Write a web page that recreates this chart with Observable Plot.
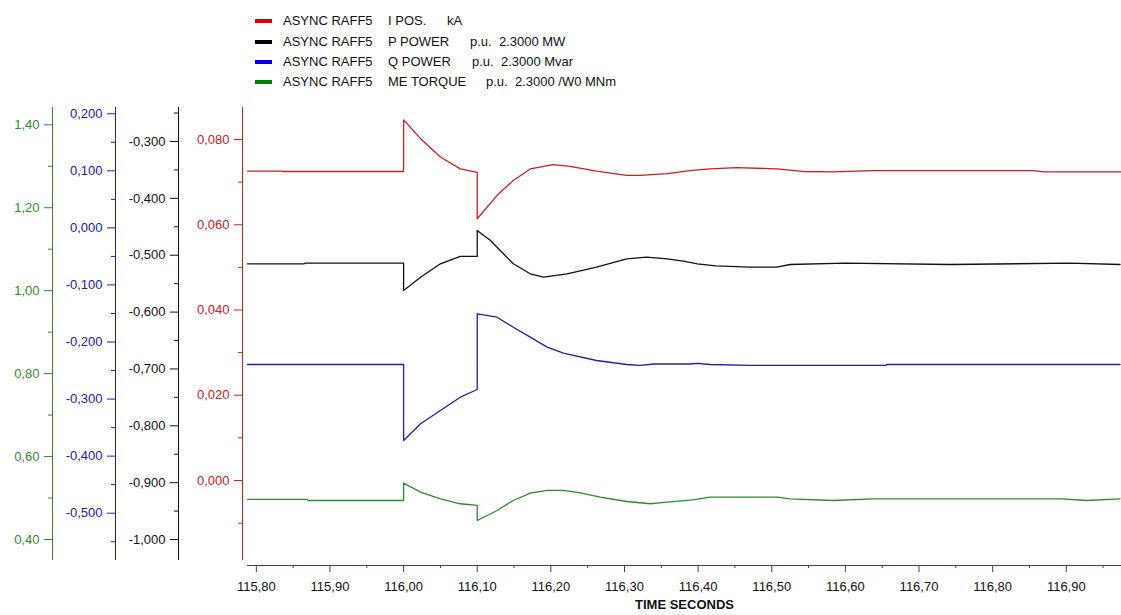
<!DOCTYPE html>
<html><head><meta charset="utf-8">
<script src="https://cdn.jsdelivr.net/npm/d3@7"></script>
<script src="https://cdn.jsdelivr.net/npm/@observablehq/plot@0.6"></script>
<style>
body{margin:0;background:#fff;font-family:"Liberation Sans",Arial,sans-serif;}
#legend{position:relative;height:100px;width:1121px;font-size:13px;color:#111;}
.sw{position:absolute;left:255px;width:17px;height:4px;}
.t{position:absolute;white-space:pre;line-height:15px;}
#chart svg{display:block;}
</style></head><body>
<div id="legend"></div><div id="chart"></div>
<script>
// ---- data ----
const seriesNames = ["I POS.", "P POWER", "Q POWER", "ME TORQUE"];
const seriesUnits = ["kA", "p.u.  2.3000 MW", "p.u.  2.3000 Mvar", "p.u.  2.3000 /W0 MNm"];
const seriesColors = ["#cc2020", "#111111", "#2020aa", "#2e8b2e"];
const legendColors = ["#e00000", "#000000", "#0000d0", "#008000"];

const iPosTime = [115.788,115.835,115.836,116.000,116.000,116.023,116.050,116.077,116.100,116.100,116.127,116.149,116.172,116.203,116.226,116.262,116.303,116.321,116.358,116.389,116.416,116.453,116.507,116.542,116.583,116.638,116.855,116.870,116.975];
const iPosValue = [0.0726,0.0726,0.0725,0.0725,0.0846,0.0802,0.0759,0.0731,0.0723,0.0614,0.0669,0.0704,0.0731,0.0741,0.0737,0.0726,0.0716,0.0716,0.0720,0.0727,0.0731,0.0734,0.0731,0.0725,0.0724,0.0727,0.0727,0.0724,0.0724];

const pPowerTime = [115.788,115.865,115.866,116.000,116.000,116.023,116.050,116.077,116.100,116.100,116.118,116.149,116.172,116.190,116.222,116.262,116.303,116.330,116.358,116.380,116.399,116.424,116.471,116.507,116.525,116.600,116.742,116.905,116.973];
const pPowerValue = [-0.5151,-0.5151,-0.5140,-0.5140,-0.5620,-0.5387,-0.5151,-0.5022,-0.5022,-0.4565,-0.4741,-0.5151,-0.5327,-0.5387,-0.5327,-0.5211,-0.5063,-0.5035,-0.5063,-0.5105,-0.5151,-0.5186,-0.5211,-0.5211,-0.5163,-0.5140,-0.5163,-0.5140,-0.5163];

const qPowerTime = [115.788,116.000,116.000,116.023,116.050,116.077,116.100,116.100,116.127,116.149,116.172,116.195,116.217,116.262,116.303,116.321,116.340,116.389,116.399,116.416,116.471,116.655,116.656,116.973];
const qPowerValue = [-0.2394,-0.2394,-0.3726,-0.3433,-0.3200,-0.2967,-0.2832,-0.1505,-0.1565,-0.1740,-0.1915,-0.2090,-0.2196,-0.2324,-0.2394,-0.2411,-0.2385,-0.2385,-0.2375,-0.2394,-0.2411,-0.2411,-0.2394,-0.2394];

const torqueTime = [115.788,115.869,115.870,116.000,116.000,116.023,116.050,116.077,116.100,116.100,116.127,116.149,116.172,116.195,116.217,116.240,116.267,116.303,116.335,116.358,116.393,116.416,116.507,116.525,116.583,116.638,116.894,116.928,116.973];
const torqueValue = [0.4965,0.4965,0.4940,0.4940,0.5358,0.5141,0.4981,0.4861,0.4820,0.4458,0.4699,0.4940,0.5116,0.5182,0.5182,0.5126,0.5020,0.4916,0.4861,0.4900,0.4957,0.5020,0.5020,0.4981,0.4940,0.4981,0.4981,0.4940,0.4981];

// axis extents (bottom, top) of each of the four stacked value axes
const iPosRange = [-0.01877, 0.08751];
const pPowerRange = [-1.0369, -0.2402];
const qPowerRange = [-0.5829, 0.2110];
const torqueRange = [0.3493, 1.4417];

const iPosTicks = [0.00,0.02,0.04,0.06,0.08];
const iPosMinor = [-0.01,0.01,0.03,0.05,0.07];
const pPowerTicks = [-1.0,-0.9,-0.8,-0.7,-0.6,-0.5,-0.4,-0.3];
const pPowerMinor = [-0.95,-0.85,-0.75,-0.65,-0.55,-0.45,-0.35,-0.25];
const qPowerTicks = [-0.5,-0.4,-0.3,-0.2,-0.1,0.0,0.1,0.2];
const qPowerMinor = [-0.55,-0.45,-0.35,-0.25,-0.15,-0.05,0.05,0.15];
const torqueTicks = [0.4,0.6,0.8,1.0,1.2,1.4];
const torqueMinor = [0.5,0.7,0.9,1.1,1.3];

const timeTicks = [115.8,115.9,116.0,116.1,116.2,116.3,116.4,116.5,116.6,116.7,116.8,116.9];
const timeMinor = [115.85,115.95,116.05,116.15,116.25,116.35,116.45,116.55,116.65,116.75,116.85,116.95];
const timeDomain = [115.788, 116.975];

// ---- legend ----
const legend = document.getElementById("legend");
const rowY = [21, 42, 62, 82];
const unitLeft = [447, 470, 472, 486];
seriesNames.forEach((name, i) => {
  const sw = document.createElement("div");
  sw.className = "sw"; sw.style.top = (rowY[i] - 2) + "px"; sw.style.background = legendColors[i];
  legend.appendChild(sw);
  const parts = [["ASYNC RAFF5", 283], [name, 388], [seriesUnits[i], unitLeft[i]]];
  parts.forEach(([txt, x]) => {
    const s = document.createElement("span");
    s.className = "t"; s.textContent = txt; s.style.left = x + "px"; s.style.top = (rowY[i] - 8) + "px";
    legend.appendChild(s);
  });
});

// ---- chart ----
const norm = r => v => (v - r[0]) / (r[1] - r[0]);
const denorm = r => n => r[0] + n * (r[1] - r[0]);

function rows(ts, vs, r) { const f = norm(r); return ts.map((t, i) => ({t, n: f(vs[i])})); }

function valueAxis(ticks, minor, r, color, dx, digits) {
  const f = norm(r), g = denorm(r);
  const fmt = v => (Math.abs(v) < 1e-9 ? 0 : v).toFixed(digits).replace(".", ",");
  return [
    Plot.ruleX([timeDomain[0]], {y1: 0, y2: 1, dx, stroke: color}),
    Plot.axisY(ticks.map(f), {anchor: "left", dx, tickSize: 8, tickPadding: 5, tickFormat: d => fmt(g(d)), color, label: null, fontSize: 13}),
    Plot.axisY(minor.map(f), {anchor: "left", dx, tickSize: 4, tickFormat: () => "", stroke: color, label: null})
  ];
}

const axisColor = "#5a3068";
const chart = Plot.plot({
  width: 1121, height: 515,
  marginLeft: 247, marginRight: 0, marginTop: 7, marginBottom: 50,
  insetBottom: 5,
  style: {fontFamily: "'Liberation Sans', Arial, sans-serif", fontSize: "13px", background: "#fff"},
  x: {domain: timeDomain},
  y: {domain: [0, 1]},
  marks: [
    ...valueAxis(torqueTicks, torqueMinor, torqueRange, seriesColors[3], -195, 2),
    ...valueAxis(qPowerTicks, qPowerMinor, qPowerRange, seriesColors[2], -132, 3),
    ...valueAxis(pPowerTicks, pPowerMinor, pPowerRange, seriesColors[1], -69, 3),
    ...valueAxis(iPosTicks, iPosMinor, iPosRange, seriesColors[0], -5, 3),
    Plot.ruleY([0], {dy: 5, stroke: axisColor}),
    Plot.axisX(timeTicks, {anchor: "bottom", tickSize: 7, tickPadding: 9, stroke: axisColor, fill: "#111", fontSize: 13, label: null, tickFormat: d => d.toFixed(2).replace(".", ",")}),
    Plot.axisX(timeMinor, {anchor: "bottom", tickSize: 3, stroke: axisColor, tickFormat: () => "", label: null}),
    Plot.text(["TIME SECONDS"], {frameAnchor: "bottom", dy: 43, fontWeight: "bold", fontSize: 13, fill: "#111"}),
    Plot.line(rows(torqueTime, torqueValue, torqueRange), {x: "t", y: "n", stroke: seriesColors[3], strokeWidth: 1.3}),
    Plot.line(rows(qPowerTime, qPowerValue, qPowerRange), {x: "t", y: "n", stroke: seriesColors[2], strokeWidth: 1.3}),
    Plot.line(rows(pPowerTime, pPowerValue, pPowerRange), {x: "t", y: "n", stroke: seriesColors[1], strokeWidth: 1.3}),
    Plot.line(rows(iPosTime, iPosValue, iPosRange), {x: "t", y: "n", stroke: seriesColors[0], strokeWidth: 1.3})
  ]
});
document.getElementById("chart").appendChild(chart);
</script>
</body></html>
